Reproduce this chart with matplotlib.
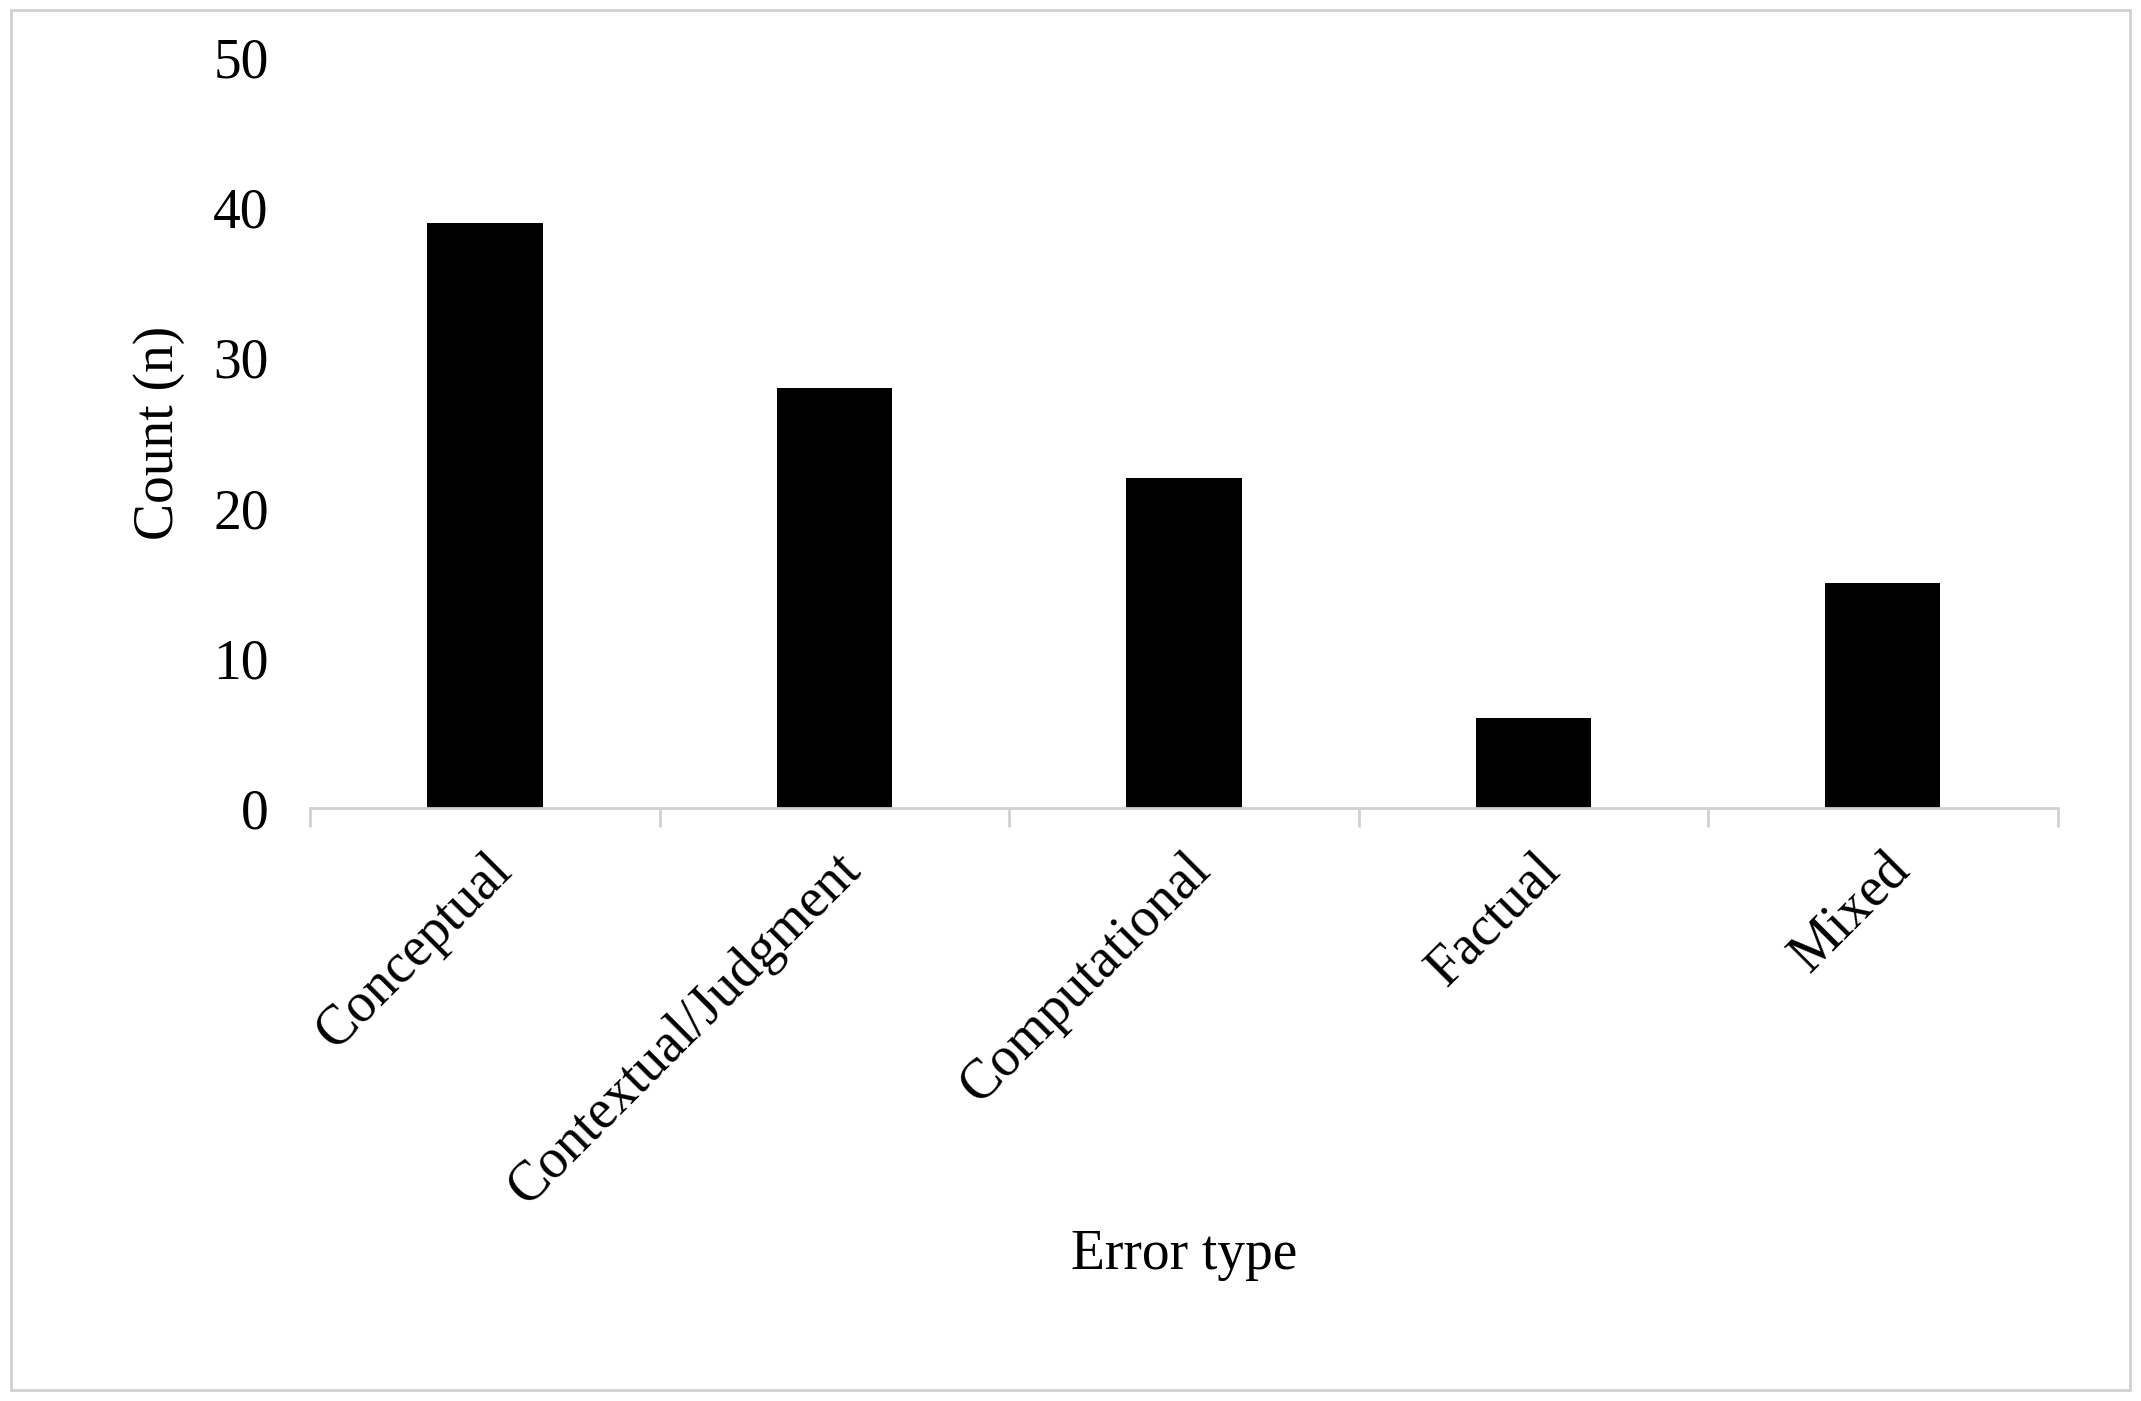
import matplotlib
matplotlib.use("Agg")
import matplotlib.pyplot as plt
from matplotlib.patches import Rectangle

categories = ["Conceptual", "Contextual/Judgment", "Computational", "Factual", "Mixed"]
counts = [39, 28, 22, 6, 15]
yticks = [0, 10, 20, 30, 40, 50]

plt.rcParams['font.family'] = ['Liberation Serif', 'DejaVu Serif']
fig = plt.figure(figsize=(21.41, 14.01), dpi=100)
ax = fig.add_axes([0.145, 0.423, 0.816, 0.536])
x = list(range(len(categories)))
ax.bar(x, counts, width=0.33, color="black")
ax.set_xlim(-0.5, len(categories) - 0.5)
ax.set_ylim(0, 50)
ax.set_yticks(yticks)
ax.tick_params(axis='y', length=0, labelsize=40, pad=30)
ax.set_xticks(x)
ax.set_xticklabels(categories, rotation=45, ha='right', rotation_mode='anchor', fontsize=40)
ax.tick_params(axis='x', length=0, pad=25)
ax.set_xticks([i - 0.5 for i in range(len(categories) + 1)], minor=True)
ax.tick_params(axis='x', which='minor', length=14, width=2, color='#d0d0d0')
for s in ['top', 'right', 'left']:
    ax.spines[s].set_visible(False)
ax.spines['bottom'].set_color('#d0d0d0')
ax.spines['bottom'].set_linewidth(2)
ax.set_ylabel("Count (n)", fontsize=40, labelpad=20)
ax.set_xlabel("Error type", fontsize=40, labelpad=10)
fig.patches.append(Rectangle((0.005, 0.008), 0.99, 0.985, transform=fig.transFigure,
                             fill=False, edgecolor='#d0d0d0', linewidth=2))
fig.savefig("out.png", dpi=100)
